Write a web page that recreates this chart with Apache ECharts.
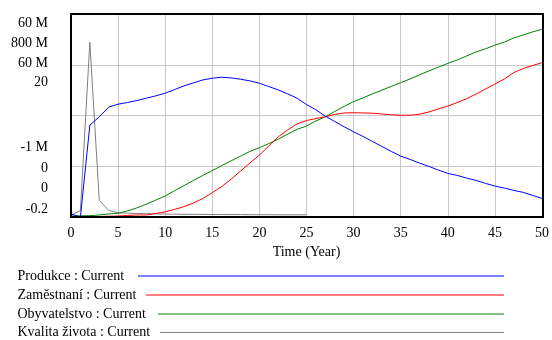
<!DOCTYPE html>
<html>
<head>
<meta charset="utf-8">
<script src="https://cdn.jsdelivr.net/npm/echarts@6/dist/echarts.min.js"></script>
<style>
  html, body { margin: 0; padding: 0; background: #fff; }
  #chart { width: 552px; height: 340px; }
</style>
</head>
<body>
<div id="chart"></div>
<script>
// Simulation time, years 0..50
const years = Array.from({ length: 51 }, (_, i) => i);

// Produkce (millions)
const produkce = [
  -0.1, -1.0, 26.6, 29.1, 32.0, 32.9, 33.4, 34.0, 34.7, 35.4,
  36.2, 37.3, 38.4, 39.3, 40.2, 40.7, 41.0, 40.8, 40.4, 39.9,
  39.2, 38.2, 37.2, 36.0, 34.7, 32.8, 31.2, 29.3, 27.7, 26.1,
  24.6, 23.2, 21.7, 20.2, 18.7, 17.3, 16.3, 15.2, 14.2, 13.1,
  12.1, 11.5, 10.7, 10.0, 9.1, 8.3, 7.7, 7.0, 6.4, 5.5, 4.6
];

// Zaměstnaní (millions)
const zamestnani = [
  1, 1, 2, 2, 3, 4, 6, 8, 8, 14,
  20, 30, 41, 55, 73, 96, 120, 149, 181, 213,
  244, 280, 316, 343, 367, 380, 388, 395, 404, 410,
  411, 410, 409, 406, 403, 401, 401, 405, 414, 426,
  437, 451, 466, 485, 504, 524, 544, 569, 585, 597, 608
];

// Obyvatelstvo (millions)
const obyvatelstvo = [
  0.3, 0.35, 0.4, 0.6, 0.9, 1.1, 1.8, 2.7, 3.8, 5.0,
  6.2, 7.8, 9.3, 10.8, 12.3, 13.7, 15.2, 16.6, 18.0, 19.4,
  20.5, 21.7, 23.0, 24.5, 25.9, 26.9, 28.4, 29.6, 31.2, 32.7,
  34.1, 35.2, 36.4, 37.5, 38.6, 39.7, 40.8, 42.0, 43.2, 44.3,
  45.4, 46.4, 47.6, 48.8, 49.7, 50.8, 51.7, 52.9, 53.8, 54.7, 55.5
];

// Kvalita života (no values after year 25)
const kvalitaZivota = [
  0.0, 0.43, 17.2, 1.46, 0.45, 0.22, 0.18, 0.15, 0.13, 0.11,
  0.09, 0.08, 0.07, 0.06, 0.06, 0.05, 0.05, 0.04, 0.04, 0.03,
  0.03, 0.03, 0.02, 0.02, 0.02, 0.02, null, null, null, null,
  null, null, null, null, null, null, null, null, null, null,
  null, null, null, null, null, null, null, null, null, null, null
];

// Per-series scale ranges, in series order
const scaleMin = [-1, 0, 0, -0.2];
const scaleMax = [60, 800, 60, 20];
const topLabels = ['60 M', '800 M', '60 M', '20'];
const bottomLabels = ['-1 M', '0', '0', '-0.2'];

const seriesNames = ['Produkce : Current', 'Zaměstnaní : Current', 'Obyvatelstvo : Current', 'Kvalita života : Current'];
const seriesColors = ['#0000ff', '#ff0000', '#008000', '#808080'];
const seriesData = [produkce, zamestnani, obyvatelstvo, kvalitaZivota];

const FONT = '"Liberation Serif", "Times New Roman", serif';
const plot = { left: 71, top: 14, right: 543, bottom: 217 };

const chart = echarts.init(document.getElementById('chart'), null, { renderer: 'canvas' });

const yAxes = scaleMin.map((mn, i) => ({
  type: 'value', min: mn, max: scaleMax[i], show: false, splitLine: { show: false }
}));
// Shared horizontal grid: four equal bands
yAxes.push({
  type: 'value', min: 0, max: 4, interval: 1,
  axisLine: { show: false }, axisTick: { show: false }, axisLabel: { show: false },
  splitLine: { show: true, lineStyle: { color: '#c8c8c8', width: 1 } }
});

const graphics = [];
// Stacked scale labels
topLabels.forEach((t, i) => {
  graphics.push({
    type: 'text', x: 48, y: 23.3 + i * 19.8,
    style: { text: t, font: '14px ' + FONT, fill: '#000', align: 'right', verticalAlign: 'middle' }
  });
});
bottomLabels.forEach((t, i) => {
  graphics.push({
    type: 'text', x: 48, y: 147.3 + i * 20.6,
    style: { text: t, font: '14px ' + FONT, fill: '#000', align: 'right', verticalAlign: 'middle' }
  });
});
// Legend rows: label followed by a line in the series colour
const legendY = [276, 295, 314, 332.5];
const legendLineStart = [138, 146, 158, 160];
seriesNames.forEach((n, i) => {
  graphics.push({
    type: 'text', x: 17.5, y: legendY[i],
    style: { text: n, font: '14px ' + FONT, fill: '#000', align: 'left', verticalAlign: 'middle' }
  });
  graphics.push({
    type: 'line',
    shape: { x1: legendLineStart[i], y1: legendY[i], x2: 504, y2: legendY[i] },
    style: { stroke: seriesColors[i], lineWidth: 1 }
  });
});
// Plot frame
graphics.push({
  type: 'rect', z: 100,
  shape: { x: plot.left, y: plot.top, width: plot.right - plot.left, height: plot.bottom - plot.top },
  style: { fill: 'none', stroke: '#000', lineWidth: 2 }
});

chart.setOption({
  animation: false,
  backgroundColor: '#fff',
  grid: {
    left: plot.left, top: plot.top,
    right: 552 - plot.right, bottom: 340 - plot.bottom,
    containLabel: false
  },
  xAxis: {
    type: 'value', min: 0, max: 50, interval: 5,
    name: 'Time (Year)', nameLocation: 'middle', nameGap: 26,
    nameTextStyle: { fontFamily: FONT, fontSize: 14, color: '#000' },
    axisLine: { show: false }, axisTick: { show: false },
    axisLabel: { fontFamily: FONT, fontSize: 14, color: '#000', margin: 9 },
    splitLine: { show: true, lineStyle: { color: '#c8c8c8', width: 1 } }
  },
  yAxis: yAxes,
  series: seriesData.map((d, i) => ({
    name: seriesNames[i],
    type: 'line',
    yAxisIndex: i,
    data: d.map((v, k) => [years[k], v]),
    showSymbol: false,
    connectNulls: false,
    lineStyle: { color: seriesColors[i], width: 1 },
    itemStyle: { color: seriesColors[i] },
    z: 10 - i
  })),
  graphic: graphics
});
</script>
</body>
</html>
